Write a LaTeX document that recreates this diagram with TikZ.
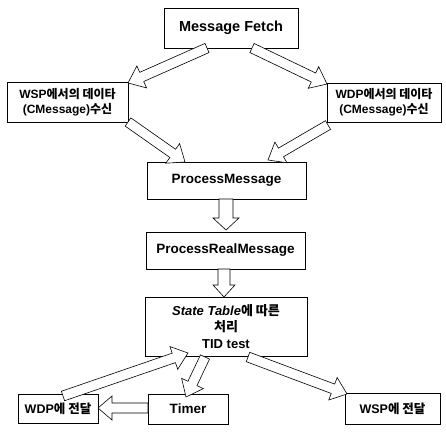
\documentclass[tikz,border=0pt]{standalone}
\usepackage{fontspec}
\setmainfont{Liberation Sans}
\newfontfamily\kr{Noto Sans CJK KR}
\usetikzlibrary{calc}
\newcommand\K[1]{{\kr\bfseries #1}}
\tikzset{
  box/.style={draw=black, line width=0.6pt, rectangle, inner sep=0pt, align=center, font=\bfseries},
  barrowstyle/.style={draw=black, fill=white, line width=0.6pt, line join=miter},
}
% hollow block arrow from #1 to #2; #3 shaft half width, #4 head half width, #5 head length
\newcommand\blockarrow[5]{%
  \coordinate (bh) at ($(#2)!#5!(#1)$);
  \draw[barrowstyle] ($(#1)!#3!90:(#2)$) -- ($(bh)!#3!-90:(#1)$) -- ($(bh)!#4!-90:(#1)$)
    -- (#2) -- ($(bh)!#4!90:(#1)$) -- ($(bh)!#3!90:(#1)$) -- ($(#1)!#3!-90:(#2)$) -- cycle;}
\begin{document}
\begin{tikzpicture}[x=1pt,y=-1pt]
\useasboundingbox (0,0) rectangle (446,433);
\node[box, minimum width=134pt, minimum height=40pt, font=\bfseries\fontsize{14.5}{16}\selectfont] (mf) at (231,28) {Message Fetch};
\node[box, minimum width=121pt, minimum height=40pt, font=\bfseries\fontsize{12}{15}\selectfont] (wsp) at (67.5,102) {WSP\K{에서의 데이타}\\(CMessage)\K{수신}};
\node[box, minimum width=114pt, minimum height=39pt, font=\bfseries\fontsize{12}{15}\selectfont] (wdp) at (384,102.5) {WDP\K{에서의 데이타}\\(CMessage)\K{수신}};
\node[box, minimum width=159pt, minimum height=37pt, font=\bfseries\fontsize{13.5}{16}\selectfont] (pm) at (226.5,180.5) {ProcessMessage};
\node[box, minimum width=159pt, minimum height=37pt, font=\bfseries\fontsize{13.5}{16}\selectfont] (prm) at (225.5,250.5) {ProcessRealMessage};
\node[box, minimum width=162pt, minimum height=59pt, font=\bfseries\fontsize{13}{16.5}\selectfont] (st) at (226,326.5) {\itshape State Table\K{에 따른}\\\K{처리}\\TID test};
\node[box, minimum width=80pt, minimum height=29pt, font=\bfseries\fontsize{12.5}{14}\selectfont] (wdpd) at (58,408.5) {WDP\K{에 전달}};
\node[box, minimum width=80pt, minimum height=30pt, font=\bfseries\fontsize{13.5}{15}\selectfont] (timer) at (188,409) {Timer};
\node[box, minimum width=95pt, minimum height=31pt, font=\bfseries\fontsize{12.5}{14}\selectfont] (wspd) at (392.5,408.5) {WSP\K{에 전달}};

\coordinate (a1s) at (207,48);  \coordinate (a1e) at (128,83);
\coordinate (a2s) at (252,48);  \coordinate (a2e) at (327,84);
\coordinate (a3s) at (128,122); \coordinate (a3e) at (185,162);
\coordinate (a4s) at (328,125); \coordinate (a4e) at (268,160);
\coordinate (a5s) at (226,199); \coordinate (a5e) at (226,230);
\coordinate (a6s) at (224,269); \coordinate (a6e) at (224,297);
\coordinate (a7s) at (63,396);  \coordinate (a7e) at (188,353);
\coordinate (a8s) at (205,357); \coordinate (a8e) at (186,397);
\coordinate (a9s) at (248,357); \coordinate (a9e) at (347,394);
\coordinate (a10s) at (148,408); \coordinate (a10e) at (98,408);

\blockarrow{a1s}{a1e}{5pt}{12pt}{15pt}
\blockarrow{a2s}{a2e}{5pt}{12pt}{15pt}
\blockarrow{a3s}{a3e}{5pt}{12pt}{15pt}
\blockarrow{a4s}{a4e}{5pt}{12pt}{15pt}
\blockarrow{a5s}{a5e}{7pt}{13pt}{12pt}
\blockarrow{a6s}{a6e}{6pt}{11pt}{12pt}
\blockarrow{a7s}{a7e}{5pt}{12pt}{15pt}
\blockarrow{a8s}{a8e}{5pt}{12pt}{15pt}
\blockarrow{a9s}{a9e}{5pt}{12pt}{15pt}
\blockarrow{a10s}{a10e}{5pt}{12pt}{14pt}
\end{tikzpicture}
\end{document}
